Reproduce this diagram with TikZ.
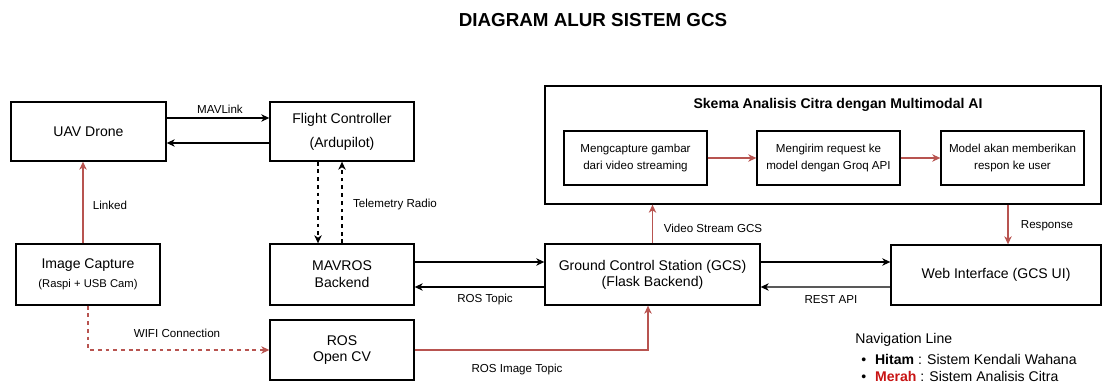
\documentclass[tikz,border=0pt]{standalone}
\usepackage{fontspec}
\setmainfont{Liberation Sans}
\usetikzlibrary{arrows.meta,calc}
\newdimen\px \px=0.02cm
\definecolor{redline}{RGB}{184,84,80}
\definecolor{merah}{RGB}{200,20,20}
\tikzset{
  box/.style={draw=black,line width=0.75pt,fill=white,inner sep=0pt,align=center,
     font=\fontsize{8}{9.6}\selectfont},
  small/.style={font=\fontsize{6.6}{9.6}\selectfont},
  lbl/.style={font=\fontsize{6.6}{8}\selectfont,inner sep=0pt},
  arr/.style={draw=black,line width=0.7pt,-{Stealth[length=4.6pt,width=4.2pt,inset=1.4pt]}},
  rarr/.style={draw=redline,line width=0.7pt,-{Stealth[length=4.6pt,width=4.2pt,inset=1.4pt]}},
  dsh/.style={dash pattern=on 2.2pt off 2.2pt},
  legend/.style={anchor=west,inner sep=0pt,font=\fontsize{8}{9.6}\selectfont},
}
\begin{document}
\begin{tikzpicture}[x=0.02cm,y=-0.02cm]
\useasboundingbox (0,0) rectangle (1103,385);
% title
\node[font=\fontsize{10.7}{12}\selectfont\bfseries,inner sep=0pt] (title) at (593,20) {DIAGRAM ALUR SISTEM GCS};
% main boxes
\node[box,minimum width=155\px,minimum height=59\px] (uav) at (88.5,131.5) {UAV Drone};
\node[box,minimum width=144\px,minimum height=59\px] (fc) at (342,131.5) {Flight Controller\\[4pt](Ardupilot)};
\node[box,minimum width=144\px,minimum height=61\px] (ic) at (88,274.5) {Image Capture\\[1pt]{\fontsize{6.4}{8}\selectfont (Raspi + USB Cam)}};
\node[box,minimum width=144\px,minimum height=61\px] (mavros) at (342,274.5) {MAVROS\\Backend};
\node[box,minimum width=144\px,minimum height=60\px] (ros) at (342,350) {ROS\\Open CV};
\node[box,minimum width=215\px,minimum height=61\px,font=\fontsize{8}{9.1}\selectfont] (gcs) at (652.5,274.5) {Ground Control Station (GCS)\\(Flask Backend)};
\node[box,minimum width=210\px,minimum height=60\px] (web) at (996,275) {Web Interface (GCS UI)};
% AI scheme
\node[box,minimum width=556\px,minimum height=118\px] (outer) at (823,145) {};
\node[font=\fontsize{8}{9.6}\selectfont\bfseries,inner sep=0pt] (skema) at (838,105) {Skema Analisis Citra dengan Multimodal AI};
\node[box,small,minimum width=143\px,minimum height=54\px] (b1) at (635.5,158) {Mengcapture gambar\\dari video streaming};
\node[box,small,minimum width=143\px,minimum height=54\px] (b2) at (828.5,158) {Mengirim request ke\\model dengan Groq API};
\node[box,small,minimum width=143\px,minimum height=54\px] (b3) at (1012.5,158) {Model akan memberikan\\respon ke user};
% black connectors
\draw[arr] ([yshift=13.5\px]uav.east) -- ([yshift=13.5\px]fc.west);
\draw[arr] ([yshift=-11.5\px]fc.west) -- ([yshift=-11.5\px]uav.east);
\node[lbl] (lmav) at (220,109) {MAVLink};
\draw[arr,dsh] ([xshift=-24\px]fc.south) -- ([xshift=-24\px]mavros.north);
\draw[arr,dsh] (mavros.north) -- (fc.south);
\node[lbl] (ltel) at (395,205) {Telemetry Radio};
\draw[arr] ([yshift=12.5\px]mavros.east) -- ([yshift=12.5\px]gcs.west);
\draw[arr] ([yshift=-12.5\px]gcs.west) -- ([yshift=-12.5\px]mavros.east);
\node[lbl] (lros) at (485,300) {ROS Topic};
\draw[arr] ([yshift=12.5\px]gcs.east) -- ([yshift=13\px]web.west);
\draw[arr] ([yshift=-12\px]web.west) -- ([yshift=-12.5\px]gcs.east);
\node[lbl] (lrest) at (831,300) {REST API};
% red connectors
\draw[rarr] ([xshift=-5\px]ic.north) -- ([xshift=-5.5\px]uav.south);
\node[lbl] (llink) at (110,205) {Linked};
\draw[rarr,dsh] (ic.south) |- (ros.west);
\node[lbl] (lwifi) at (177,333) {WIFI Connection};
\draw[rarr] (ros.east) -| ([xshift=-4.5\px]gcs.south);
\node[lbl] (lrimg) at (517,370) {ROS Image Topic};
\draw[rarr] (gcs.north) -- (gcs.north |- outer.south);
\node[lbl] (lvid) at (713,228) {Video Stream GCS};
\coordinate (wtop) at ([xshift=12\px]web.north);
\draw[rarr] (wtop |- outer.south) -- (wtop);
\node[lbl] (lresp) at (1047,226) {Response};
\draw[rarr] (b1.east) -- (b2.west);
\draw[rarr] (b2.east) -- (b3.west);
% legend
\node[legend] (nav) at (855,340) {Navigation Line};
\node[legend] (bul1) at (861,359.5) {\textbullet\hspace{5pt}\textbf{Hitam} : Sistem Kendali Wahana};
\node[legend] (bul2) at (861,376.5) {\textbullet\hspace{5pt}\textcolor{merah}{\textbf{Merah}} : Sistem Analisis Citra};
\end{tikzpicture}
\end{document}
